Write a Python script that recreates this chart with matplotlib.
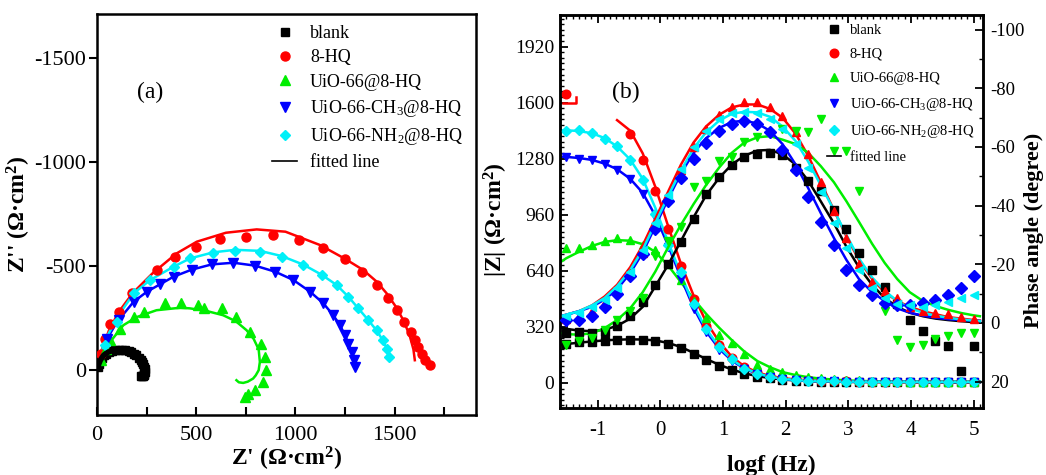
import numpy as np
import matplotlib
matplotlib.use('Agg')
import matplotlib.pyplot as plt
from matplotlib.lines import Line2D
from matplotlib.ticker import MultipleLocator, FixedLocator

plt.rcParams['font.family'] = 'serif'
plt.rcParams['font.serif'] = ['Liberation Serif', 'DejaVu Serif']
plt.rcParams['mathtext.fontset'] = 'custom'
plt.rcParams['mathtext.rm'] = 'Liberation Serif'
plt.rcParams['mathtext.default'] = 'regular'
plt.rcParams['axes.unicode_minus'] = False

nan = np.nan

# =============================================================================
# DATA - (a) Nyquist, Z' and Z'' in Ohm cm2
# =============================================================================
blank_zr = [5, 10, 17, 25, 34, 45, 59, 75, 92, 110, 126, 142, 159, 172, 185, 198, 210,
            220, 227, 233, 238, 240, 240, 238, 235, 230, 225, 220]
blank_zi = [-15, -32, -48, -60, -72, -80, -88, -93, -96, -98, -99, -97, -93, -88, -80, -71,
            -61, -51, -40, -28, -16, -4, 8, 16, 24, 28, 30, 30]

hq_zr = [20, 40, 67, 109, 176, 302, 394, 500, 621, 752, 886, 1017, 1141, 1250, 1334, 1410,
         1468, 1510, 1549, 1581, 1602, 1619, 1636, 1653, 1678]
hq_zi = [-80, -150, -224, -280, -369, -481, -545, -593, -628, -638, -648, -625, -585, -532,
         -473, -409, -345, -289, -232, -184, -144, -112, -80, -48, -24]
hq_fit_zr = [0, 25, 60, 110, 180, 280, 400, 503, 650, 805, 950, 1124, 1250, 1342, 1410, 1460,
             1510, 1544, 1575, 1595, 1602]
hq_fit_zi = [0, -100, -190, -280, -370, -465, -560, -617, -660, -676, -665, -601, -535, -481,
             -425, -369, -300, -240, -170, -100, -48]

uio_zr = [20, 45, 67, 117, 185, 235, 342, 426, 510, 537, 628, 703, 770, 829, 846, 854, 837,
          796, 761, 745]
uio_zi = [-50, -100, -144, -200, -256, -280, -321, -321, -313, -297, -297, -256, -184, -128,
          -64, 0, 56, 96, 112, 128]
uio_fit_zr = [0, 30, 70, 133, 200, 300, 420, 468, 550, 636, 700, 754, 790, 815, 821, 815, 800,
              787, 760, 737, 715, 703]
uio_fit_zi = [0, -70, -140, -216, -255, -288, -300, -297, -285, -264, -235, -192, -150, -100,
              -40, 0, 25, 40, 55, 61, 58, 48]

ch3_zr = [50, 110, 185, 252, 320, 386, 478, 579, 688, 797, 898, 990, 1074, 1141, 1191, 1225,
          1250, 1267, 1284, 1295, 1300]
ch3_zi = [-150, -240, -329, -377, -415, -449, -481, -508, -513, -502, -473, -433, -377, -321,
          -264, -216, -168, -128, -88, -48, -16]
ch3_fit_zr = [0, 20, 50, 100, 185, 252, 386, 478, 579, 688, 797, 898, 990, 1074, 1141, 1191,
              1225, 1250, 1267, 1284, 1292]
ch3_fit_zi = [0, -75, -150, -230, -329, -377, -449, -483, -508, -516, -502, -473, -433, -377,
              -321, -264, -216, -168, -128, -88, -50]

nh2_zr = [40, 100, 185, 268, 386, 470, 587, 696, 822, 931, 1040, 1133, 1208, 1267, 1317, 1368,
          1410, 1443, 1460, 1473]
nh2_zi = [-120, -230, -369, -433, -497, -537, -564, -574, -569, -545, -505, -457, -409, -353,
          -297, -240, -192, -144, -104, -64]
nh2_fit_zr = [0, 20, 50, 100, 185, 268, 386, 470, 587, 696, 822, 931, 1040, 1133, 1208, 1267,
              1317, 1368, 1410, 1443, 1462, 1470]
nh2_fit_zi = [0, -80, -160, -250, -369, -433, -497, -537, -566, -578, -573, -548, -507, -458,
              -409, -353, -297, -240, -190, -140, -100, -60]

# =============================================================================
# DATA - (b) Bode, log f, |Z| (Ohm cm2) and phase (degree)
# =============================================================================
logf = [-1.5, -1.3, -1.09, -0.89, -0.69, -0.48, -0.28, -0.08, 0.13, 0.33, 0.53, 0.73, 0.94,
        1.14, 1.34, 1.55, 1.75, 1.95, 2.16, 2.36, 2.56, 2.77, 2.97, 3.17, 3.38, 3.58, 3.78,
        3.98, 4.19, 4.39, 4.59, 4.8, 5.0]
logf_fit = [-1.6] + logf + [5.1]

zmod_blank = [222, 232, 236, 242, 247, 248, 246, 242, 222, 200, 168, 132, 99, 74, 52, 36, 26,
              19, 14, 10, 8, 7, 6, 5, 5, 4, 4, 4, 3, 3, 3, 3, 3]
zmod_blank_fit = [215, 222, 230, 237, 243, 247, 249, 248, 243, 228, 205, 172, 137, 104, 77, 55,
                  39, 28, 20, 14, 11, 8, 7, 6, 5, 5, 4, 4, 4, 3, 3, 3, 3, 3, 3]
zmod_hq = [1650, nan, nan, nan, nan, 1421, 1273, 1097, 878, 669, 478, 326, 215, 140, 92, 60,
           40, 28, 20, 15, 12, 10, 9, 8, 8, 7, 7, 7, 6, 6, 6, 6, 6]
zmod_hq_fit = [nan, nan, nan, nan, nan, 1500, 1440, 1310, 1120, 890, 680, 500, 350, 235, 150,
               95, 60, 40, 28, 20, 15, 12, 10, 9, 8, 8, 7, 7, 7, 6, 6, 6, 6, 6, 6]
hook_logf = [-1.56, -1.34, -1.34]
hook_zmod = [1598, 1598, 1632]
zmod_uio = [773, 770, 790, 808, 825, 815, 790, 760, 680, 585, 470, 370, 275, 230, 165, 105, 80,
            60, 45, 35, 28, 22, 18, 15, 12, 10, 9, 8, 8, 7, 7, 7, 7]
zmod_uio_fit = [688, 712, 748, 782, 805, 815, 812, 792, 748, 668, 575, 480, 395, 315, 245, 180,
                125, 90, 62, 45, 33, 25, 19, 15, 12, 10, 9, 8, 8, 7, 7, 7, 7, 7, 7]
zmod_ch3 = [1288, 1280, 1270, 1250, 1218, 1165, 1080, 950, 775, 595, 425, 290, 190, 125, 78,
            50, 32, 22, 16, 12, 10, 9, 8, 8, 7, 7, 7, 7, 6, 6, 6, 6, 6]
zmod_ch3_fit = [1292, 1290, 1284, 1273, 1252, 1220, 1165, 1085, 955, 780, 600, 430, 295, 195,
                128, 82, 52, 34, 23, 16, 12, 10, 9, 8, 8, 7, 7, 7, 7, 6, 6, 6, 6, 6, 6]
zmod_nh2 = [1440, 1445, 1428, 1395, 1350, 1272, 1157, 966, 785, 632, 452, 308, 203, 135, 80,
            50, 32, 22, 16, 12, 10, 9, 8, 8, 7, 7, 7, 7, 6, 6, 6, 6, 6]
zmod_nh2_fit = [1442, 1442, 1438, 1425, 1398, 1350, 1275, 1165, 1000, 800, 620, 445, 310, 205,
                135, 85, 55, 35, 24, 17, 13, 10, 9, 8, 8, 7, 7, 7, 7, 6, 6, 6, 6, 6, 6]

ph_blank = [3.4, 3.1, 3.4, 3.2, 1.1, -2.3, -7.2, -12.9, -20, -27.5, -35.5, -44, -49.7, -53.7,
            -56.5, -57.7, -58, -57.1, -53, -48.5, -45, -38.5, -32, -24, -18, -12.4, -6.5,
            -1.1, 2.8, 6, 8, 16.5, 8]
ph_blank_fit = [1.5, 2, 2.6, 2.8, 2.3, 1, -1.5, -5.5, -12.5, -20, -28, -36, -43.5, -49.5, -54,
                -57, -58.8, -59, -57.5, -54, -48.5, -41.5, -34, -26, -19, -13, -8.5, -5.5,
                -3.5, -2.3, -1.5, -1, -0.6, -0.3, -0.2]
ph_hq = [-1.5, -2.5, -4, -7, -11, -17, -24, -33, -43, -52, -60, -66, -71, -73.6, -75.3, -75.5,
         -73.8, -70.7, -65, -57.6, -47.9, -38.2, -29.1, -20, -14, -10.8, -8.6, -5.5, -4,
         -3.4, -2.9, -2, -1.5]
ph_hq_fit = [-2.3, -2.8, -4, -6, -9, -13, -19, -26.5, -35.5, -45, -54, -61.5, -67, -71, -73.5,
             -74.5, -74.5, -73, -70, -64.5, -57, -48, -38.5, -29.5, -21.5, -15, -10.5, -7.5,
             -5.5, -4, -3, -2, -1.5, -1, -0.8]
ph_uio = [7.4, 6.3, 5.1, 2.3, -1.1, -4, -8.6, -23, -28, -32.6, -46.5, -48.5, -55.3, -56.5,
          -61.6, -63.4, -64.6, -66.3, -65.5, -65.1, -69.7, -58.8, -58.8, -45.1, nan, -4, 5.7,
          8.3, 7.4, 5.4, 4.6, 3.4, 3.4]
ph_uio_fit = [3.4, 3.8, 4.0, 3.5, 1.8, -1, -5, -10.5, -17.5, -26, -33.5, -40.5, -47, -53, -58,
              -61.5, -63.3, -63.7, -62.5, -61, -58, -53.5, -48, -41.5, -34.5, -27, -20.5, -15,
              -10.5, -7.5, -5.8, -4.5, -3.4, -2.6, -2.3]
ph_ch3 = [-1, -1.1, -2.5, -5.5, -10, -16, -23.5, -32, -41.5, -49.5, -56, -61.5, -65.5, -68,
          -69, -68, -65, -59, -52, -43, -34.5, -26.5, -18, -13, -9.7, -6.8, -6, -6, -6.8, -8,
          -9.7, -12, -16]
ph_ch3_fit = [-2.3, -2.8, -4, -5.5, -8, -11.5, -17, -24, -33, -42.5, -51, -58, -63, -66.5,
              -68.5, -69, -68, -65.5, -61, -54, -46, -37.5, -29, -21.5, -15, -10.5, -7.5, -5,
              -3.5, -2.5, -1.8, -1.3, -1, -0.8, -0.7]
ph_nh2 = [-2.5, -3.5, -5.5, -8, -12, -17.5, -25, -34, -43.5, -52.5, -60, -65.5, -69.5, -71.5,
          -72, -71.5, -69.5, -66, -61, -53, -44.5, -34, -25.5, -18, -12, -8.5, -6.5, -6,
          -5.5, -6, -7, -8.6, -9.7]
ph_nh2_fit = [-2.3, -2.8, -4, -6, -8.5, -12.5, -18, -25, -34, -43.5, -52, -59.5, -65, -69,
              -71.3, -72, -71.8, -70.3, -67, -62, -55, -47, -38.5, -30, -22, -15.5, -11, -7.5,
              -5, -3.5, -2.5, -1.8, -1.2, -0.8, -0.6]

labels = ['blank', '8-HQ', 'UiO-66@8-HQ', 'UiO-66-CH$_3$@8-HQ', 'UiO-66-NH$_2$@8-HQ']
colors = ['#000000', '#ff0000', '#00ee00', '#0000ff', '#00f0f8']
markers = ['s', 'o', '^', 'v', 'D']
msizes = [5.5, 6.5, 6.5, 6.5, 5.5]
ph_markers = ['s', '^', 'v', 'D', '<']

fig = plt.figure(figsize=(10.46, 4.75), dpi=100)

# =============================================================================
# (a) Nyquist
# =============================================================================
ax1 = fig.add_axes([0.0927, 0.1263, 0.3623, 0.8442])
nyq = [(blank_zr, blank_zi, None, None),
       (hq_zr, hq_zi, hq_fit_zr, hq_fit_zi),
       (uio_zr, uio_zi, uio_fit_zr, uio_fit_zi),
       (ch3_zr, ch3_zi, ch3_fit_zr, ch3_fit_zi),
       (nh2_zr, nh2_zi, nh2_fit_zr, nh2_fit_zi)]
for k, (zr, zi, fr, fi) in enumerate(nyq):
    ax1.plot(zr, zi, ls='none', marker=markers[k], ms=msizes[k], color=colors[k],
             mec=colors[k], zorder=3)
    if fr is not None:
        ax1.plot(fr, fi, color=colors[k], lw=1.8, zorder=2)
ax1.plot(blank_zr, blank_zi, color='k', lw=4, zorder=3)

ax1.set_xlim(0, 1910)
ax1.set_ylim(215, -1710)
ax1.xaxis.set_major_locator(FixedLocator([0, 500, 1000, 1500]))
ax1.xaxis.set_minor_locator(FixedLocator([250, 750, 1250, 1750]))
ax1.yaxis.set_major_locator(FixedLocator([0, -500, -1000, -1500]))
ax1.tick_params(axis='x', which='both', direction='in', length=6, width=1.5, pad=8,
                labelsize=16, top=False)
ax1.tick_params(axis='y', which='both', direction='out', length=6, width=1.5, pad=2,
                labelsize=16, right=False)
for sp in ax1.spines.values():
    sp.set_linewidth(1.8)
ax1.set_xlabel("Z' (Ω·cm$^2$)", fontsize=17, fontweight='bold')
ax1.set_ylabel("Z'' (Ω·cm$^2$)", fontsize=17, fontweight='bold')
ax1.xaxis.set_label_coords(0.5, -0.075)
ax1.yaxis.set_label_coords(-0.168, 0.5)
fig.text(137 / 1046, 1 - 92 / 475, '(a)', fontsize=17, va='center')

h1 = [Line2D([], [], ls='none', marker=markers[k], ms=msizes[k], color=colors[k])
      for k in range(5)]
h1.append(Line2D([], [], color='k', lw=1.2))
ax1.legend(h1, labels + ['fitted line'], loc='upper left', bbox_to_anchor=(0.462, 0.972),
           frameon=False, fontsize=13, handlelength=1.4, handletextpad=0.7,
           labelspacing=0.4, borderaxespad=0, borderpad=0)

# =============================================================================
# (b) Bode
# =============================================================================
ax2 = fig.add_axes([0.5354, 0.141, 0.4044, 0.8274])
ax3 = ax2.twinx()

zmods = [zmod_blank, zmod_hq, zmod_uio, zmod_ch3, zmod_nh2]
zfits = [zmod_blank_fit, zmod_hq_fit, zmod_uio_fit, zmod_ch3_fit, zmod_nh2_fit]
phs = [ph_blank, ph_hq, ph_uio, ph_ch3, ph_nh2]
pfits = [ph_blank_fit, ph_hq_fit, ph_uio_fit, ph_ch3_fit, ph_nh2_fit]

for k in range(5):
    ax2.plot(logf_fit, zfits[k], color=colors[k], lw=1.8, zorder=2)
    ax2.plot(logf, zmods[k], ls='none', marker=markers[k], ms=msizes[k] - 0.3,
             color=colors[k], zorder=3)
ax2.plot(hook_logf, hook_zmod, color=colors[1], lw=1.8)

for k in range(5):
    ax3.plot(logf_fit, pfits[k], color=colors[k], lw=1.8, zorder=2)
    ax3.plot(logf, phs[k], ls='none', marker=ph_markers[k], ms=msizes[k] - 0.3,
             color=colors[k], zorder=3)

ax2.set_xlim(-1.6, 5.15)
ax2.set_ylim(-143, 2100)
ax3.set_ylim(29, -105)
ax2.xaxis.set_major_locator(MultipleLocator(1))
ax2.xaxis.set_minor_locator(MultipleLocator(0.1))
ax2.yaxis.set_major_locator(FixedLocator([0, 320, 640, 960, 1280, 1600, 1920]))
ax2.yaxis.set_minor_locator(MultipleLocator(32))
ax3.yaxis.set_major_locator(MultipleLocator(20))
ax3.yaxis.set_minor_locator(MultipleLocator(10))
ax2.tick_params(axis='both', which='major', direction='in', length=6, width=1.3,
                labelsize=14, top=True)
ax2.tick_params(axis='both', which='minor', direction='in', length=3, width=1.0, top=True)
ax2.tick_params(axis='x', which='major', pad=9, labelsize=15)
ax2.tick_params(axis='y', which='major', pad=4)
ax3.tick_params(axis='y', which='major', direction='in', length=6, width=1.3, labelsize=13.5,
                pad=5)
ax3.tick_params(axis='y', which='minor', direction='in', length=3, width=1.0)
for sp in ax3.spines.values():
    sp.set_linewidth(1.8)
for sp in ax2.spines.values():
    sp.set_linewidth(1.8)

ax2.set_xlabel('logf (Hz)', fontsize=17, fontweight='bold')
ax2.set_ylabel('|Z| (Ω·cm$^2$)', fontsize=17, fontweight='bold')
ax3.set_ylabel('Phase angle (degree)', fontsize=16, fontweight='bold')
ax2.xaxis.set_label_coords(0.5, -0.12)
ax2.yaxis.set_label_coords(-0.118, 0.48)
ax3.yaxis.set_label_coords(1.097, 0.453)
fig.text(612 / 1046, 1 - 92 / 475, '(b)', fontsize=17, va='center')

h2 = [Line2D([], [], ls='none', marker=markers[k], ms=msizes[k] - 0.3, color=colors[k])
      for k in range(5)]
h2.append(Line2D([], [], color='k', lw=1.2))
ax3.legend(h2, labels + ['fitted line'], loc='upper left', bbox_to_anchor=(0.63, 0.978),
           frameon=False, fontsize=10.5, handlelength=1.0, handletextpad=0.6,
           labelspacing=0.74, borderaxespad=0, borderpad=0)

fig.savefig('out.png', dpi=100)
